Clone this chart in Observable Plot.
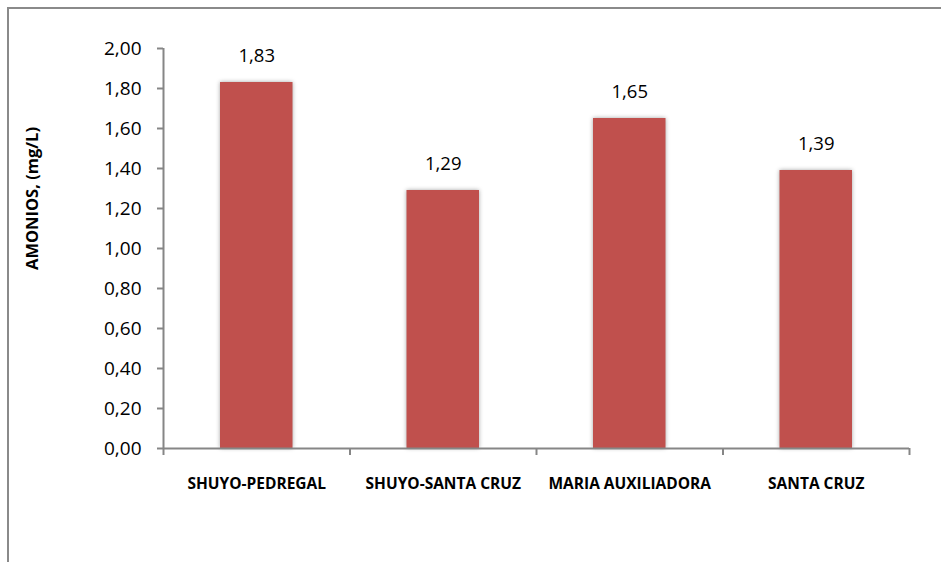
<!DOCTYPE html>
<html>
<head>
<meta charset="utf-8">
<script src="https://cdn.jsdelivr.net/npm/d3@7"></script>
<script src="https://cdn.jsdelivr.net/npm/@observablehq/plot@0.6"></script>
<style>
  html, body { margin: 0; padding: 0; background: #fff; }
  #wrap { position: relative; width: 941px; height: 562px; overflow: hidden; }
  #frame { position: absolute; left: 7px; top: 7px; right: -10px; bottom: -10px;
           border-left: 2px solid #8a8a8a; border-top: 2px solid #8a8a8a; pointer-events: none; }
  svg g[aria-label="rect"] rect { filter: drop-shadow(0 0 2px rgba(0,0,0,0.35)); }
</style>
</head>
<body>
<div id="wrap"><div id="frame"></div></div>
<script>
const categories = ["SHUYO-PEDREGAL", "SHUYO-SANTA CRUZ", "MARIA AUXILIADORA", "SANTA CRUZ"];
const values = [1.83, 1.29, 1.65, 1.39];
const yTicks = [0, 0.2, 0.4, 0.6, 0.8, 1.0, 1.2, 1.4, 1.6, 1.8, 2.0];
const yTitle = "AMONIOS, (mg/L)";

const data = categories.map((c, i) => ({cat: c, i, value: values[i]}));
const comma = v => d3.format(".2f")(v).replace(".", ",");
const font = "'Open Sans', sans-serif";

const chart = Plot.plot({
  width: 941,
  height: 562,
  marginLeft: 163,
  marginRight: 32,
  marginTop: 48,
  marginBottom: 114,
  style: {fontFamily: font, fontSize: "19px", background: "transparent", color: "#000"},
  x: {type: "linear", domain: [0, categories.length], axis: null},
  y: {domain: [0, 2], axis: null},
  marks: [
    Plot.rect(data, {x1: d => d.i, x2: d => d.i + 1, y1: 0, y2: "value",
      fill: "#C0504D", insetLeft: 57, insetRight: 57}),
    Plot.axisY({ticks: yTicks, tickSize: 6, tickPadding: 16, stroke: "#868686", strokeWidth: 2,
      tickFormat: comma, fill: "#000", label: null}),
    Plot.axisX({ticks: d3.range(categories.length + 1), tickSize: 7, tickFormat: () => "",
      stroke: "#868686", strokeWidth: 2, label: null}),
    Plot.ruleX([0], {y1: 0, y2: 2, stroke: "#868686", strokeWidth: 2}),
    Plot.ruleY([0], {stroke: "#868686", strokeWidth: 2}),
    Plot.text(data, {x: d => d.i + 0.5, y: "value", text: d => comma(d.value),
      dy: -26, fontSize: 18.5, fill: "#000"}),
    Plot.text(data, {x: d => d.i + 0.5, y: 0, text: "cat", dy: 36,
      fontSize: 15.5, fontWeight: "bold", fill: "#000"}),
    Plot.text([yTitle], {frameAnchor: "left", textAnchor: "middle", dx: -131, dy: -50, rotate: -90,
      fontSize: 16.5, fontWeight: "bold", fill: "#000"})
  ]
});
document.getElementById("wrap").insertBefore(chart, document.getElementById("frame"));
</script>
</body>
</html>
